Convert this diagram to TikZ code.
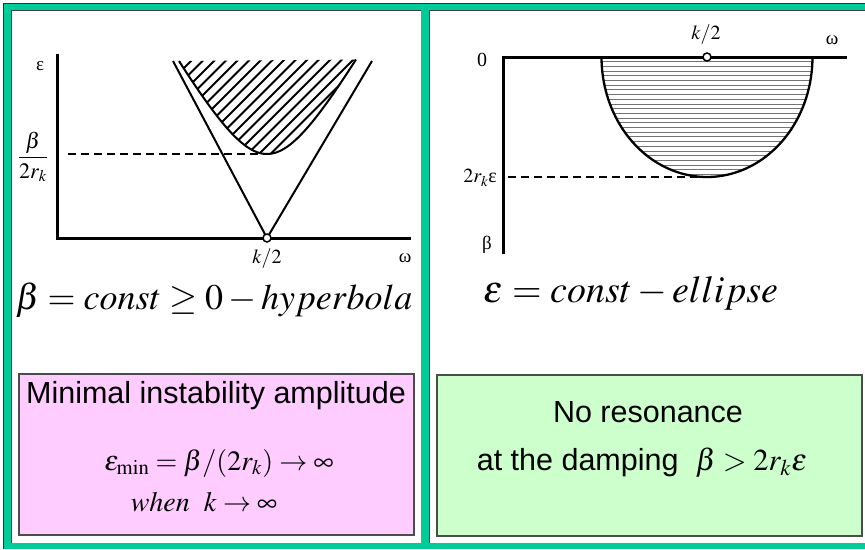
\documentclass[tikz,border=0pt]{standalone}
\usepackage{mathptmx}
\usepackage[no-math]{fontspec}
\setmainfont{Liberation Serif}
\setsansfont{Liberation Sans}
\definecolor{bggreen}{RGB}{0,204,153}
\definecolor{boxpink}{RGB}{255,204,255}
\definecolor{boxgreen}{RGB}{204,255,204}
\begin{document}
\begin{tikzpicture}[x=1pt,y=-1pt,
  axis/.style={line width=3pt, line join=miter},
  curve/.style={line width=2pt},
  dashln/.style={line width=2pt, dash pattern=on 8pt off 5pt},
  lbl/.style={inner sep=0pt, font=\fontsize{19}{19}\selectfont},
  biglbl/.style={inner sep=0pt, font=\fontsize{20}{20}\selectfont},
  heading/.style={inner sep=0pt, anchor=base, font=\fontsize{36}{36}\selectfont},
  boxtxt/.style={inner sep=0pt, anchor=base, font=\sffamily\fontsize{30.5}{30.5}\selectfont},
  mathtxt/.style={inner sep=0pt, anchor=base, font=\fontsize{28}{28}\selectfont},
  boxst/.style={draw=black!70, line width=1.5pt, inner sep=0pt},
  dot/.style={circle, draw, fill=white, line width=1.5pt, minimum size=8pt, inner sep=0pt},
  paneledge/.style={line width=1.5pt, draw=black!75}]
\useasboundingbox (0,0) rectangle (865,549);
\fill[white] (0,0) rectangle (865,549);
\fill[bggreen] (4,4) rectangle (865,549);
\draw[line width=1.5pt, black!80] (3.5,549) -- (3.5,3.5) -- (865,3.5);
% panels
\fill[white] (11,10) rectangle (421,543);
\draw[paneledge] (11.5,543) -- (11.5,10.5) -- (421,10.5);
\fill[white] (429,10) rectangle (865,543);
\draw[paneledge] (429.5,543) -- (429.5,10.5) -- (865,10.5);

% ---------- left graph ----------
\coordinate (yT1) at (57,54);
\coordinate (O1) at (57,238);
\coordinate (xR1) at (411,238);
\coordinate (k1) at (267,238);
\coordinate (vL) at (173,61);
\coordinate (vR) at (372,61);
\coordinate (hv) at (267,154);
\coordinate (d1) at (68,154);
\draw[axis] (yT1) -- (O1) -- (xR1);
\draw[curve] (vL) -- (k1) -- (vR);
\begin{scope}
  \clip plot[domain=-0.88:0.89, samples=80] ({267+100*\x},{238-100*sqrt(0.7056+3.1329*\x*\x)}) -- cycle;
  \foreach \i in {-8,...,11} \draw[curve] ({131+11.5*\i},190) -- ++(140,-140);
\end{scope}
\draw[curve] plot[domain=-0.88:0.89, samples=80] ({267+100*\x},{238-100*sqrt(0.7056+3.1329*\x*\x)});
\draw[dashln] (d1) -- (hv);
\node[dot] (c1) at (k1) {};
\node[lbl] (eps1) at (40,66) {ε};
\node[inner sep=0pt, font=\fontsize{22}{22}\selectfont] (frac1) at (33,157) {$\displaystyle\frac{\beta}{2r_k}$};
\node[biglbl] (kh1) at (267,259) {$k/2$};
\node[lbl] (om1) at (405,258) {ω};

% ---------- right graph ----------
\coordinate (xR2) at (847,57);
\coordinate (O2) at (503,57);
\coordinate (yB2) at (503,254);
\coordinate (k2) at (707,57);
\coordinate (eb) at (707,177);
\coordinate (d2) at (508,177);
\begin{scope}
  \clip plot[domain=0:180, samples=90] ({707+105.5*cos(\x)},{57+120*sin(\x)}) -- cycle;
  \foreach \i in {1,...,26} \draw[black!55, line width=0.9pt] (598,{57+4.7*\i}) -- (816,{57+4.7*\i});
\end{scope}
\draw[line width=2.3pt] plot[domain=0:180, samples=90] ({707+105.5*cos(\x)},{57+120*sin(\x)});
\draw[axis] (xR2) -- (O2) -- (yB2);
\draw[dashln] (d2) -- (eb);
\node[dot] (c2) at (k2) {};
\node[biglbl] (zero2) at (482,60) {0};
\node[biglbl] (kh2) at (706,35) {$k/2$};
\node[lbl] (om2) at (832,40) {ω};
\node[biglbl, anchor=east] (tre) at (497,178) {$2r_k$ε};
\node[lbl] (bet2) at (487,245) {β};

% ---------- headings ----------
\node[heading] (h1) at (214,309) {$\beta = const \ge 0 - hyperbola$};
\node[heading, font=\fontsize{38}{38}\selectfont] (h2) at (631,302) {$\varepsilon = const - ellipse$};

% ---------- boxes ----------
\node[boxst, fill=boxpink, minimum width=395pt, minimum height=161pt] (pb) at (216.5,454.5) {};
\node[boxtxt] (pt1) at (216,403) {Minimal instability amplitude};
\node[mathtxt] (pt2) at (219,470) {$\varepsilon_{\min} = \beta/(2r_k) \to \infty$};
\node[mathtxt] (pt3) at (204,511) {$when\ \ k \to \infty$};

\node[boxst, fill=boxgreen, minimum width=425pt, minimum height=161pt] (gb) at (649.5,455.5) {};
\node[boxtxt] (gt1) at (648,422) {No resonance};
\node[boxtxt] (gt2) at (642,470) {at the damping \ $\beta > 2r_k\varepsilon$};
\end{tikzpicture}
\end{document}
